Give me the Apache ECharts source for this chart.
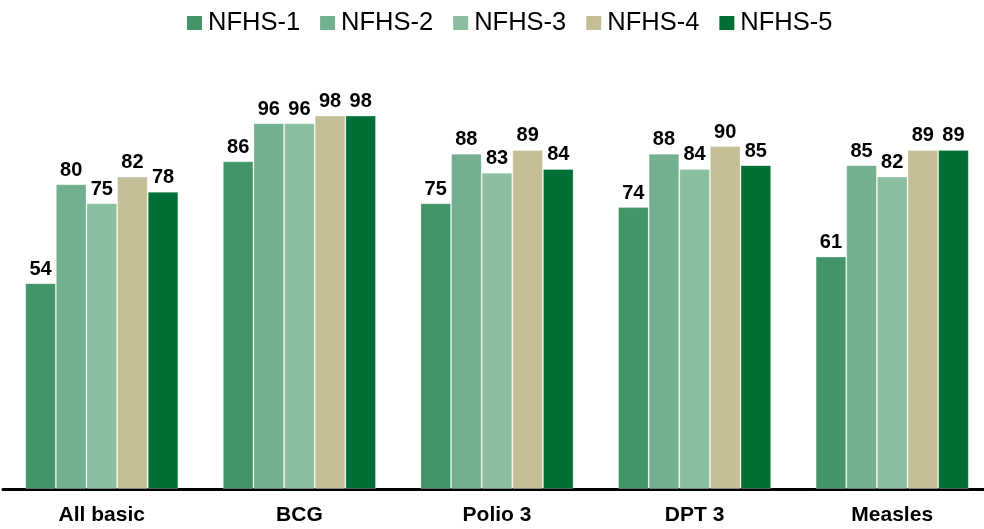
<!DOCTYPE html>
<html><head><meta charset="utf-8">
<script src="https://cdn.jsdelivr.net/npm/echarts@6/dist/echarts.min.js"></script>
<style>html,body{margin:0;padding:0;background:#fff}#c{width:984px;height:529px}</style>
</head><body><div id="c"></div>
<script>
const categories = ['All basic','BCG','Polio 3','DPT 3','Measles'];
const seriesNames = ['NFHS-1','NFHS-2','NFHS-3','NFHS-4','NFHS-5'];
const nfhs1 = [54,86,75,74,61];
const nfhs2 = [80,96,88,88,85];
const nfhs3 = [75,96,83,84,82];
const nfhs4 = [82,98,89,90,89];
const nfhs5 = [78,98,84,85,89];
const colors = ['#429469','#72b08f','#8bbf9f','#c4bf97','#006f35'];
const data = [nfhs1,nfhs2,nfhs3,nfhs4,nfhs5];
const chart = echarts.init(document.getElementById('c'));
chart.setOption({
  animation:false,
  textStyle:{fontFamily:'Liberation Sans, Arial, sans-serif'},
  legend:{top:5,left:182,itemWidth:15,itemHeight:14,itemGap:20,itemStyle:{borderWidth:0},icon:'rect',
    textStyle:{fontSize:25.5,color:'#000',fontFamily:'Liberation Sans, Arial, sans-serif',padding:[0,0,0,1]}},
  grid:{left:3,width:988,top:108,bottom:40,containLabel:false,outerBoundsMode:'none'},
  xAxis:{type:'category',data:categories,
    axisLine:{lineStyle:{color:'#000',width:3}},axisTick:{show:false},
    axisLabel:{fontSize:21,fontWeight:'bold',color:'#000',margin:16}},
  yAxis:{type:'value',min:0,max:100,show:false,splitLine:{show:false}},
  series: seriesNames.map((n,i)=>({
    name:n,type:'bar',data:data[i],barGap:'0%',barCategoryGap:'22.5%',
    itemStyle:{color:colors[i],borderColor:'rgba(255,255,255,0.25)',borderWidth:1},
    label:{show:true,position:'top',distance:4,fontSize:20,fontWeight:'bold',color:'#000'}
  }))
});
</script></body></html>
